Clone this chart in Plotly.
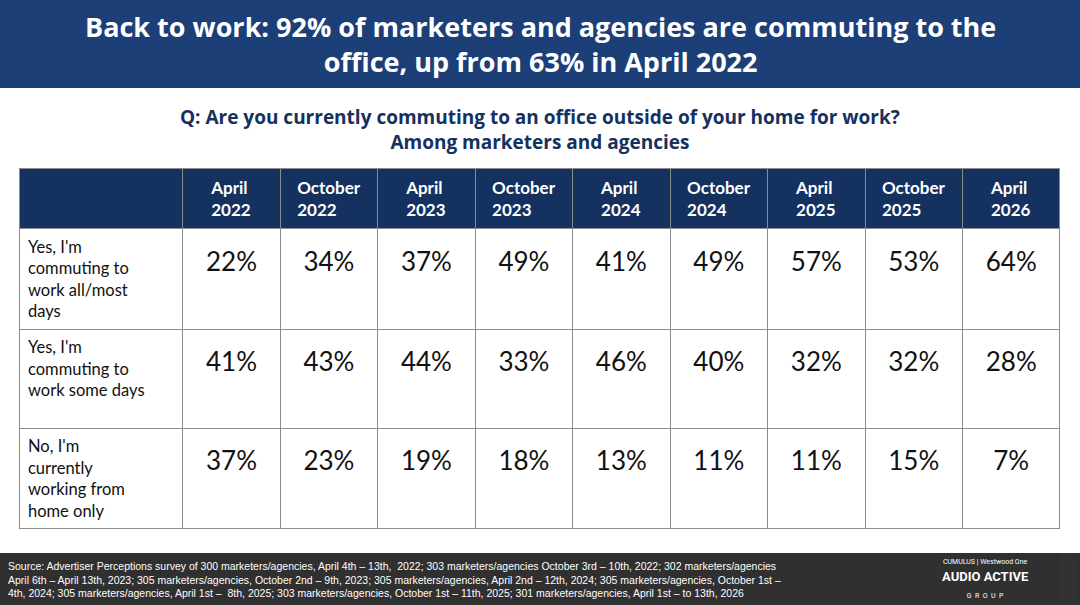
import plotly.graph_objects as go

periods = ["April<br>2022", "October<br>2022", "April<br>2023", "October<br>2023", "April<br>2024",
           "October<br>2024", "April<br>2025", "October<br>2025", "April<br>2026"]
answers = ["Yes, I'm<br>commuting to<br>work all/most<br>days",
           "Yes, I'm<br>commuting to<br>work some days",
           "No, I'm<br>currently<br>working from<br>home only"]
all_most = [22, 34, 37, 49, 41, 49, 57, 53, 64]
some_days = [41, 43, 44, 33, 46, 40, 32, 32, 28]
home_only = [37, 23, 19, 18, 13, 11, 11, 15, 7]

rows = [all_most, some_days, home_only]
# leading <br> pushes the numbers towards the vertical middle of the cell
cols = [answers] + [[f"<br>{r[i]}%" for r in rows] for i in range(len(periods))]

fig = go.Figure(go.Table(
    domain=dict(x=[0.0185, 0.982], y=[0.0, 0.7207]),
    columnwidth=[163] + [97.6] * 9,
    header=dict(values=[""] + ["<b>%s</b>" % p for p in periods],
                fill_color="#14315f", line_color="#8c8c8c",
                font=dict(color="white", size=17, family="Lato"),
                align="center", height=60),
    cells=dict(values=cols, fill_color="white", line_color="#8c8c8c",
               font=dict(color=["#111"] * 10, size=[16.5] + [26] * 9, family="Lato"),
               align=["left"] + ["center"] * 9, height=99),
))

fig.add_shape(type="rect", xref="paper", yref="paper", x0=0, x1=1, y0=1 - 88 / 605, y1=1,
              fillcolor="#1d3f78", line_width=0, layer="below")
fig.add_shape(type="rect", xref="paper", yref="paper", x0=0, x1=1, y0=0, y1=52 / 605,
              fillcolor="#303030", line_width=0, layer="below")

fig.add_annotation(x=0.5, y=1 - 44 / 605, xref="paper", yref="paper", showarrow=False, yanchor="middle",
                   text="<b>Back to work: 92% of marketers and agencies are commuting to the<br>office, up from 63% in April 2022</b>",
                   font=dict(color="white", size=27, family="Open Sans"))
fig.add_annotation(x=0.5, y=1 - 130 / 605, xref="paper", yref="paper", showarrow=False, yanchor="middle",
                   text="<b>Q: Are you currently commuting to an office outside of your home for work?<br>Among marketers and agencies</b>",
                   font=dict(color="#14315f", size=19, family="Open Sans"))
fig.add_annotation(x=0.006, y=26 / 605, xref="paper", yref="paper", showarrow=False, xanchor="left",
                   yanchor="middle", align="left",
                   text="Source: Advertiser Perceptions survey of 300 marketers/agencies, April 4th – 13th,  2022; 303 marketers/agencies October 3rd – 10th, 2022; 302 marketers/agencies<br>"
                        "April 6th – April 13th, 2023; 305 marketers/agencies, October 2nd – 9th, 2023; 305 marketers/agencies, April 2nd – 12th, 2024; 305 marketers/agencies, October 1st –<br>"
                        "4th, 2024; 305 marketers/agencies, April 1st –  8th, 2025; 303 marketers/agencies, October 1st – 11th, 2025; 301 marketers/agencies, April 1st – to 13th, 2026",
                   font=dict(color="white", size=10.5, family="Liberation Sans Narrow, Liberation Sans"))
fig.add_annotation(x=0.955, y=26 / 605, xref="paper", yref="paper", showarrow=False, yanchor="middle",
                   text="<span style='font-size:7px'>CUMULUS | Westwood One</span><br><b>AUDIO ACTIVE</b><br><span style='font-size:7px'>G  R  O  U  P</span>",
                   font=dict(color="white", size=13, family="Roboto"))

fig.update_layout(width=1080, height=605, margin=dict(l=0, r=0, t=0, b=0),
                  paper_bgcolor="white", plot_bgcolor="white")
fig.write_html("out.html", config={"displayModeBar": False},
               post_script="document.body.style.margin='0';")
